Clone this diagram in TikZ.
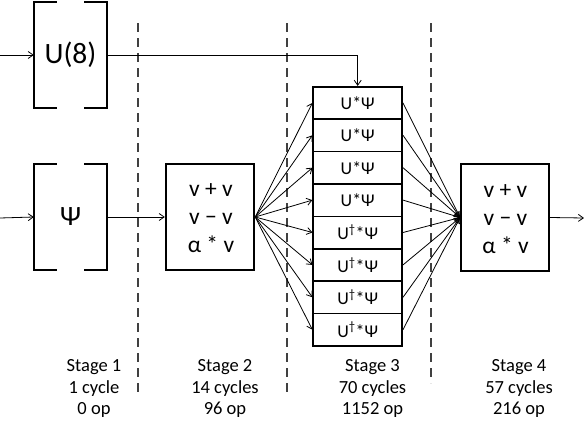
\documentclass[tikz,border=0pt]{standalone}
\usepackage{fontspec}
\setmainfont{Carlito}
\usetikzlibrary{arrows.meta}
\newcommand{\firststrut}[1]{\rule{0pt}{#1}}
\begin{document}
\begin{tikzpicture}[x=1pt,y=-1pt,
  >={Straight Barb[length=5pt,width=7pt]},
  conn/.style={->,line width=0.8pt},
  brk/.style={line width=2pt},
  opbox/.style={draw,line width=1.8pt,minimum width=88.6pt,minimum height=106pt,inner sep=0pt},
  optext/.style={anchor=north,inner sep=0pt,align=center,font=\fontsize{23.5}{27.8}\selectfont},
  cellbox/.style={draw,line width=1.6pt,minimum width=89pt,minimum height=32.4pt,inner sep=0pt,font=\fontsize{18}{20}\selectfont},
  hold/.style={minimum width=73pt,minimum height=106pt,inner sep=0pt,font=\fontsize{29.5}{32}\selectfont},
  sep/.style={line width=1.2pt,black!75,dash pattern=on 9pt off 6pt},
  lab/.style={anchor=north,align=center,inner sep=0pt,font=\fontsize{18.5}{21.4}\selectfont}]
\useasboundingbox (0,0) rectangle (584,431);
% holders
\node[hold] (U8) at (70.5,55) {U(8)};
\node[hold,font=\fontsize{28}{32}\selectfont] (P) at (70.5,217) {Ψ};
\foreach \n in {U8,P}{
  \draw[brk] ([xshift=23pt]\n.north west) -- (\n.north west) -- (\n.south west) -- ([xshift=23pt]\n.south west);
  \draw[brk] ([xshift=-23pt]\n.north east) -- (\n.north east) -- (\n.south east) -- ([xshift=-23pt]\n.south east);
}
% dashed stage separators
\coordinate (d1t) at (138,23); \coordinate (d1b) at (138,392);
\coordinate (d2t) at (287,23); \coordinate (d2b) at (287,392);
\coordinate (d3t) at (431,23); \coordinate (d3b) at (431,383);
\draw[sep] (d1t) -- (d1b);
\draw[sep] (d2t) -- (d2b);
\draw[sep] (d3t) -- (d3b);
% stage 2
\node[opbox] (b2) at (210,217) {};
\node[optext] (t2) at (211,176.7) {\firststrut{20pt}v + v\\v − v\\α * v};
% stage 3
\foreach \k in {1,...,4}{
  \node[cellbox,fill=white] (s\k) at (357.7,{86.7+16.2+32.4*(\k-1)}) {U*Ψ};
}
\foreach \k in {5,...,8}{
  \node[cellbox,fill=white] (s\k) at (357.7,{86.7+16.2+32.4*(\k-1)}) {U\textsuperscript{†}*Ψ};
}
% stage 4
\node[opbox,minimum width=88pt,minimum height=107pt] (b4) at (505,217.5) {};
\node[optext] (t4) at (505.5,177.2) {\firststrut{20pt}v + v\\v − v\\α * v};
% connectors
\coordinate (inU) at (0,55);
\coordinate (inP) at (0,218);
\coordinate (out) at (584,218);
\draw[conn] (inU) -- (U8.west);
\draw[conn] (U8.east) -| (s1.north);
\draw[conn] (inP) -- (P.west);
\draw[conn] (P.east) -- (b2.west);
\foreach \k in {1,...,8}{
  \draw[conn] (b2.east) -- (s\k.west);
  \draw[conn] (s\k.east) -- (b4.west);
}
\draw[conn] (b4.east) -- (out);
% labels
\node[lab] (l1) at (94,355.7) {\firststrut{16pt}Stage 1\\1 cycle\\0 op};
\node[lab] (l2) at (225,355.7) {\firststrut{16pt}Stage 2\\14 cycles\\96 op};
\node[lab] (l3) at (372.5,355.7) {\firststrut{16pt}Stage 3\\70 cycles\\1152 op};
\node[lab] (l4) at (519,355.7) {\firststrut{16pt}Stage 4\\57 cycles\\216 op};
\end{tikzpicture}
\end{document}
